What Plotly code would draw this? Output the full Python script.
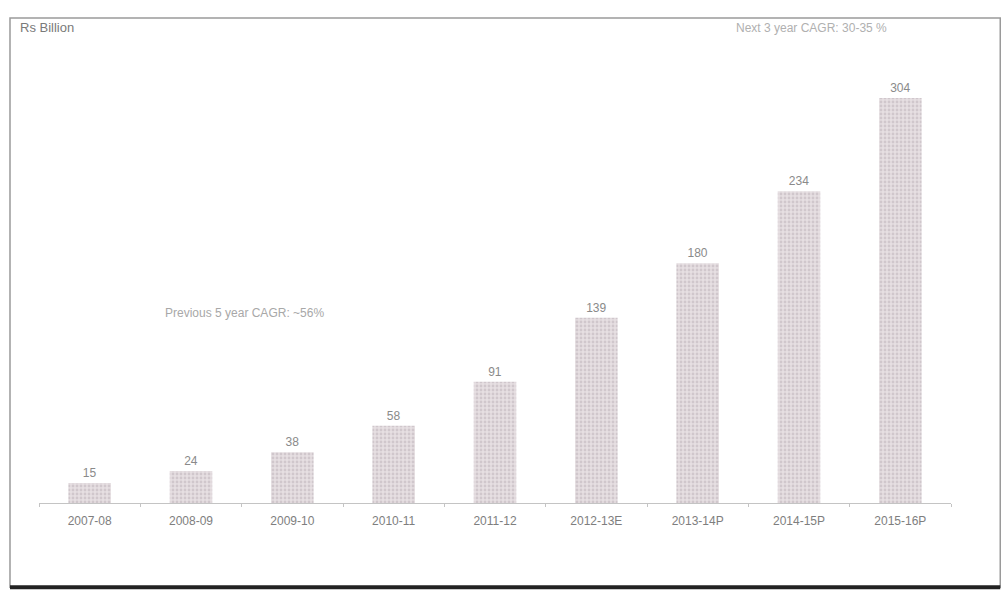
import plotly.graph_objects as go

# Market size, Rs billion
years = ["2007-08", "2008-09", "2009-10", "2010-11", "2011-12",
         "2012-13E", "2013-14P", "2014-15P", "2015-16P"]
values = [15, 24, 38, 58, 91, 139, 180, 234, 304]

unit_label = "Rs Billion"
next_cagr = "Next 3 year CAGR: 30-35 %"
prev_cagr = "Previous 5 year CAGR: ~56%"

FONT = "Liberation Sans, Arial, sans-serif"
TEXT_GREY = "#8a8a8a"

fig = go.Figure(
    go.Bar(
        x=years,
        y=values,
        text=[str(v) for v in values],
        textposition="outside",
        textfont=dict(family=FONT, size=12, color=TEXT_GREY),
        cliponaxis=False,
        marker=dict(
            color="#e6dfe2",
            line=dict(width=0),
            pattern=dict(shape=".", fgcolor="#b9b0b5", size=4, solidity=0.4),
        ),
        hoverinfo="skip",
    )
)

fig.update_layout(
    width=1002,
    height=596,
    margin=dict(l=39, r=51, t=60, b=93),
    paper_bgcolor="white",
    plot_bgcolor="white",
    showlegend=False,
    bargap=0.58,
    font=dict(family=FONT, color=TEXT_GREY),
    xaxis=dict(
        type="category",
        showgrid=False,
        showline=True,
        linecolor="#c4c4c4",
        linewidth=1,
        ticks="outside",
        tickson="boundaries",
        ticklen=3,
        tickcolor="#c4c4c4",
        ticklabelstandoff=7,
        tickfont=dict(family=FONT, size=12, color="#7e7e7e"),
        fixedrange=True,
    ),
    yaxis=dict(
        range=[0, 332.5],
        visible=False,
        fixedrange=True,
    ),
    annotations=[
        dict(text=unit_label, xref="paper", yref="paper", x=-0.023, y=1.073,
             xanchor="left", yanchor="middle", showarrow=False,
             font=dict(family=FONT, size=13, color="#7a7a7a")),
        dict(text=next_cagr, xref="paper", yref="paper", x=0.762, y=1.073,
             xanchor="left", yanchor="middle", showarrow=False,
             font=dict(family=FONT, size=12, color="#b0b0b0")),
        dict(text=prev_cagr, xref="paper", yref="paper", x=0.136, y=0.429,
             xanchor="left", yanchor="middle", showarrow=False,
             font=dict(family=FONT, size=12, color="#a8a8a8")),
    ],
    shapes=[
        # frame around the chart
        dict(type="rect", xref="paper", yref="paper",
             x0=-0.0318, x1=1.054, y0=-0.19, y1=1.095,
             line=dict(color="#9a9a9a", width=1.5)),
        # heavy bottom rule
        dict(type="line", xref="paper", yref="paper",
             x0=-0.0318, x1=1.054, y0=-0.19, y1=-0.19,
             line=dict(color="#222222", width=4)),
    ],
)

fig.write_html("out.html")
